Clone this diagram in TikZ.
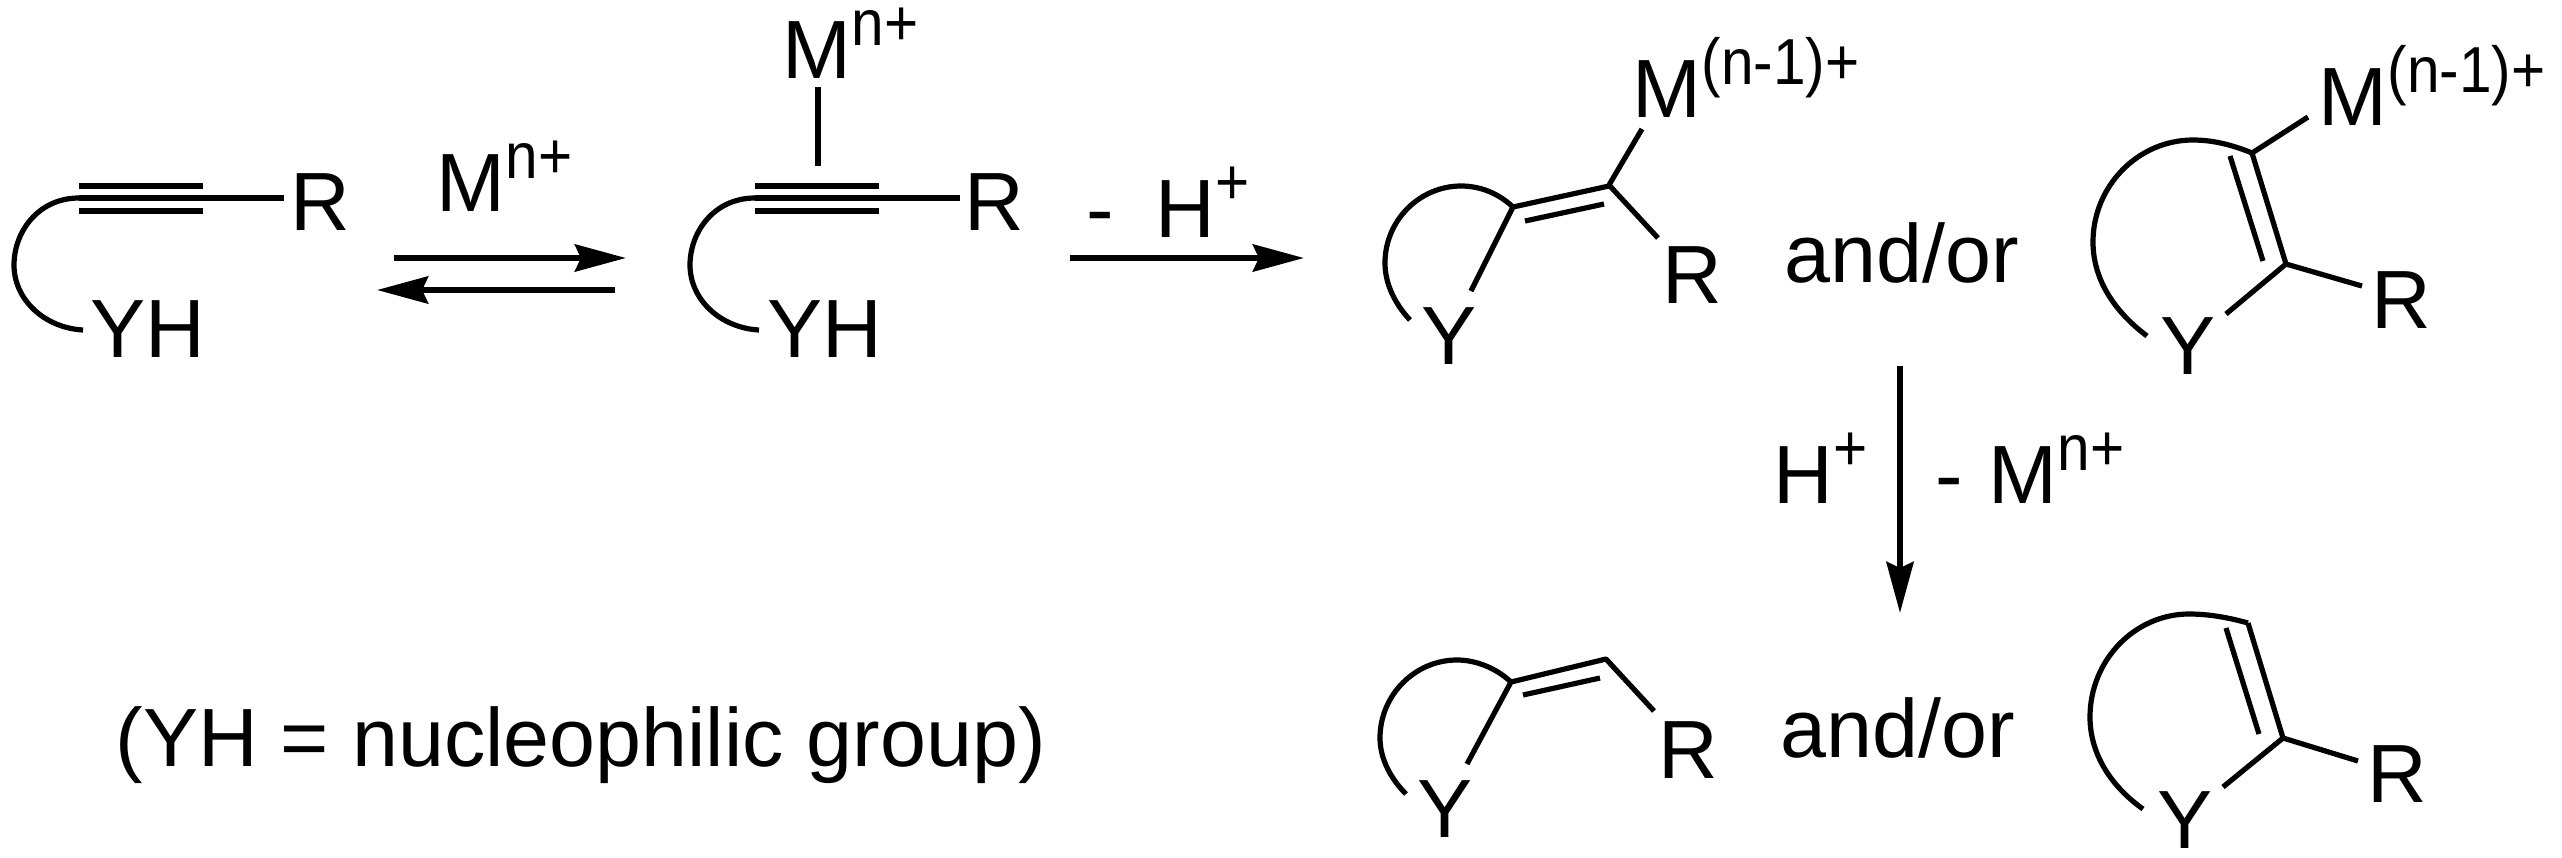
\documentclass[tikz,border=0pt]{standalone}
\usepackage{fontspec}
\setmainfont{Liberation Sans}
\usetikzlibrary{arrows.meta}
\tikzset{
	lab/.style={inner sep=0pt,anchor=base west},
	bond/.style={line width=0.052cm,line cap=butt},
	rxn/.style={line width=0.06cm,-{Stealth[length=0.51cm,width=0.27cm,inset=0.06cm]}}
}
\newcommand{\supr}[1]{\raisebox{0.32cm}{\scalebox{0.9}[1]{\fontsize{18.5}{19}\selectfont #1}}}
\begin{document}
\begin{tikzpicture}[x=0.01cm,y=-0.01cm,line join=round,font=\fontsize{23.5}{24}\selectfont]
	\useasboundingbox (0,0) rectangle (2562,857);
	% labels
	\foreach \n/\x/\y in {Ra/290/230,Rb/964/230,Rc/1662/303,Rd/2371/328,Re/1658/778,Rf/2367/802}
	\node[lab] (\n) at (\x,\y) {R};
	\foreach \n/\x/\y in {Ya/1421/364,Yb/2160/374,Yc/1417/837,Yd/2157/848}
	\node[lab] (\n) at (\x,\y) {Y};
	\foreach \n/\x/\y in {YHa/90/357,YHb/767/357}
	\node[lab] (\n) at (\x,\y) {YH};
	\foreach \n/\x/\y in {Ma/436/211,Mb/782/78,Mc/1988/503}
	\node[lab] (\n) at (\x,\y) {M\supr{n+}};
	\foreach \n/\x/\y in {Md/1632/117,Me/2318/125}
	\node[lab] (\n) at (\x,\y) {M\supr{(n-1)+}};
	\foreach \n/\x/\y in {ora/1784/282,orb/1780/757}
	\node[lab] (\n) at (\x,\y) {and/or};
	\node[lab] (Ha) at (1155,237) {H\supr{+}};
	\node[lab] (Hb) at (1773,503) {H\supr{+}};
	\node[lab] (ma) at (1086,237) {-};
	\node[lab] (mb) at (1935,503) {-};
	\node[lab] (note) at (115,766) {(YH = nucleophilic group)};
	% alkynes
	\foreach \d in {0,676} {
		\draw[bond] (79+\d,186)--(203+\d,186) (79+\d,211)--(203+\d,211);
		\draw[bond] (79+\d,198)--(284+\d,198);
		\draw[bond] (83+\d,330) .. controls (45+\d,328) and (14+\d,300) .. (14+\d,265) .. controls (14+\d,232) and (38+\d,198) .. (79+\d,198);
	}
	\draw[bond] (818,87)--(818,166);
	% vinyl metal, five ring side
	\draw[bond] (1642,129)--(1609,185)--(1658,238);
	\draw[bond] (1609,186)--(1513,207)--(1471,291);
	\draw[bond] (1604,204)--(1525,221);
	\draw[bond] (1513,207) .. controls (1498,193) and (1480,186) .. (1461,186) .. controls (1420,186) and (1385,220) .. (1385,263) .. controls (1385,285) and (1396,305) .. (1410,320);
	% vinyl metal, large ring
	\draw[bond] (2308,117)--(2252,153)--(2286,264)--(2362,286);
	\draw[bond] (2286,264)--(2226,314);
	\draw[bond] (2230,156)--(2263,261);
	\draw[bond] (2252,153) .. controls (2235,146) and (2215,140) .. (2193,140) .. controls (2138,140) and (2093,186) .. (2093,242) .. controls (2093,280) and (2115,312) .. (2147,336);
	% products
	\draw[bond] (1654,711)--(1606,659)--(1511,682)--(1467,764);
	\draw[bond] (1600,678)--(1523,695);
	\draw[bond] (1511,682) .. controls (1496,668) and (1476,660) .. (1457,660) .. controls (1415,660) and (1380,695) .. (1380,738) .. controls (1380,760) and (1392,780) .. (1406,794);
	\draw[bond] (2248,623)--(2283,738)--(2358,761);
	\draw[bond] (2283,738)--(2223,787);
	\draw[bond] (2226,628)--(2259,734);
	\draw[bond] (2248,623) .. controls (2230,618) and (2210,614) .. (2189,614) .. controls (2135,614) and (2090,660) .. (2090,717) .. controls (2090,755) and (2112,787) .. (2143,809);
	% arrows
	\coordinate (ea) at (394,258);
	\coordinate (eb) at (626,258);
	\coordinate (ec) at (615,290);
	\coordinate (ed) at (377,290);
	\coordinate (fa) at (1070,258);
	\coordinate (fb) at (1304,258);
	\coordinate (ga) at (1900,366);
	\coordinate (gb) at (1900,613);
	\draw[rxn] (ea)--(eb);
	\draw[rxn] (ec)--(ed);
	\draw[rxn] (fa)--(fb);
	\draw[rxn] (ga)--(gb);
\end{tikzpicture}
\end{document}
